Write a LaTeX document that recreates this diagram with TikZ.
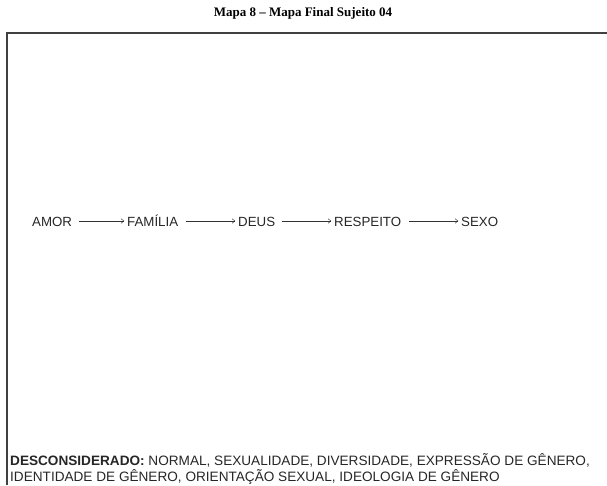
\documentclass[tikz,border=0pt]{standalone}
\usepackage{fontspec}
\setmainfont{Liberation Sans}
\newfontfamily\titlefont{Liberation Serif}
\usetikzlibrary{arrows.meta}
\begin{document}
\begin{tikzpicture}[x=1pt,y=-1pt,
  word/.style={inner sep=0pt,anchor=base west,font=\fontsize{13.3}{15}\selectfont,text=black!85},
  flow/.style={-{To[length=3pt,width=5pt]},line width=0.5pt,black!80,shorten >=3pt},
  note/.style={inner sep=0pt,anchor=base west,font=\fontsize{13.6}{16}\selectfont,text=black!85,align=left}]
\useasboundingbox (0,0) rectangle (607,485);
\node[inner sep=0pt,font=\titlefont\bfseries\fontsize{13}{15}\selectfont] (title) at (303,13) {Mapa 8 – Mapa Final Sujeito 04};
\coordinate (fb) at (7,485);
\coordinate (ftl) at (7,33);
\coordinate (ftr) at (607,33);
\draw[line width=1.3pt,black!75] (fb) -- (ftl) -- (ftr);
\node[word] (amor) at (32,226) {AMOR};
\node[word] (familia) at (127,226) {FAMÍLIA};
\node[word] (deus) at (238,226) {DEUS};
\node[word] (resp) at (334,226) {RESPEITO};
\node[word] (sexo) at (461,226) {SEXO};
\draw[flow] ([xshift=7pt]amor.east |- 0,221) coordinate (a1) -- (a1 -| familia.west);
\draw[flow] ([xshift=8pt]familia.east |- 0,221) coordinate (a2) -- (a2 -| deus.west);
\draw[flow] ([xshift=7pt]deus.east |- 0,221) coordinate (a3) -- (a3 -| resp.west);
\draw[flow] ([xshift=8pt]resp.east |- 0,221) coordinate (a4) -- (a4 -| sexo.west);
\node[note] (desc) at (10,481) {\textbf{DESCONSIDERADO:} NORMAL, SEXUALIDADE, DIVERSIDADE, EXPRESSÃO DE GÊNERO,\\IDENTIDADE DE GÊNERO, ORIENTAÇÃO SEXUAL, IDEOLOGIA DE GÊNERO};
\end{tikzpicture}
\end{document}
